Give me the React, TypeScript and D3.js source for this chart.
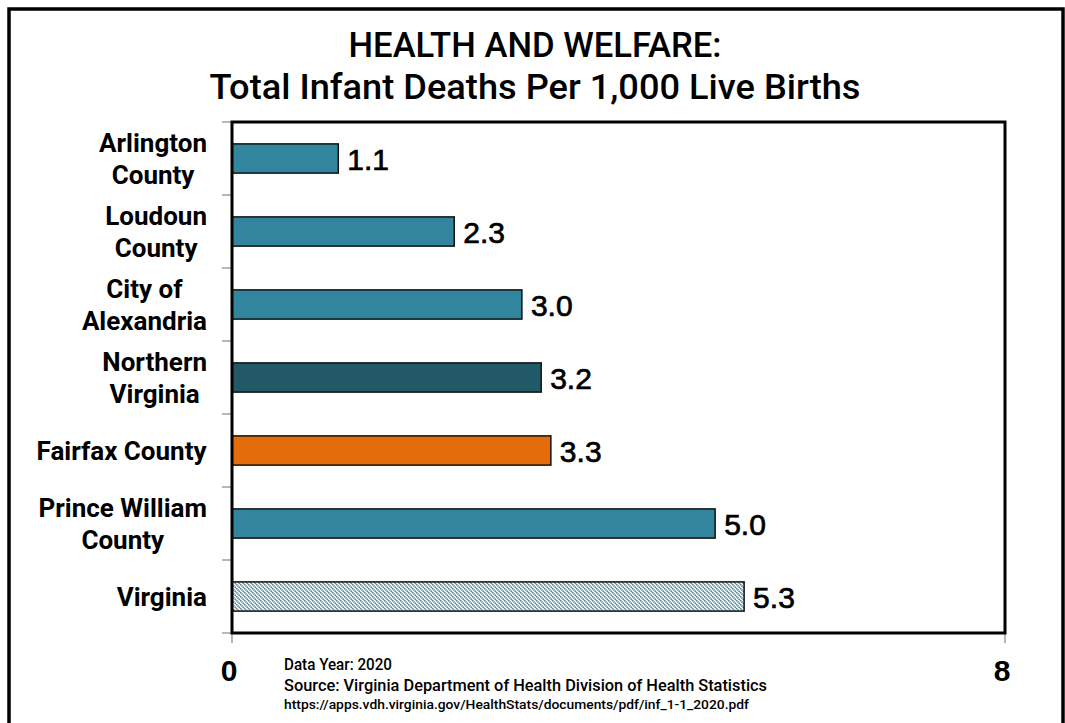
import React, { useEffect, useRef } from "react";
import * as d3 from "d3";

const categories = [
  "Arlington\nCounty",
  "Loudoun\nCounty",
  "City of\nAlexandria",
  "Northern\nVirginia",
  "Fairfax County",
  "Prince William\nCounty",
  "Virginia",
];
const values = [1.1, 2.3, 3.0, 3.2, 3.3, 5.0, 5.3];
const barKinds = ["teal", "teal", "teal", "dark", "orange", "teal", "hatch"];
const xTicks = [0, 8];
const titleLines = ["HEALTH AND WELFARE:", "Total Infant Deaths Per 1,000 Live Births"];
const footerLines = [
  "Data Year: 2020",
  "Source: Virginia Department of Health Division of Health Statistics",
  "https://apps.vdh.virginia.gov/HealthStats/documents/pdf/inf_1-1_2020.pdf",
];

const W = 1065;
const H = 723;
const plot = { left: 232, right: 1005, top: 122, bottom: 633 };
const colors: Record<string, string> = {
  teal: "#31859c",
  dark: "#215967",
  orange: "#e46c0a",
  hatch: "url(#hatch)",
};
const labelFont = "Roboto, 'Liberation Sans', sans-serif";

export default function App() {
  const ref = useRef<SVGSVGElement | null>(null);

  useEffect(() => {
    const svg = d3.select(ref.current);
    svg.selectAll("*").remove();

    const defs = svg.append("defs");
    const pat = defs
      .append("pattern")
      .attr("id", "hatch")
      .attr("patternUnits", "userSpaceOnUse")
      .attr("width", 4)
      .attr("height", 4);
    pat.append("rect").attr("width", 4).attr("height", 4).attr("fill", "#ffffff");
    pat
      .append("path")
      .attr("d", "M-1,-1L5,5M-1,3L1,5M3,-1L5,1")
      .attr("stroke", "#3d7888")
      .attr("stroke-width", 1.5)
      .attr("stroke-dasharray", "1.3,0.5");

    svg.append("rect").attr("width", W).attr("height", H).attr("fill", "#ffffff");

    // outer frame
    svg
      .append("rect")
      .attr("x", 9)
      .attr("y", 9)
      .attr("width", 1054)
      .attr("height", 740)
      .attr("fill", "none")
      .attr("stroke", "#000")
      .attr("stroke-width", 3.5);

    const x = d3.scaleLinear().domain([0, 8]).range([plot.left, plot.right]);
    const y = d3
      .scaleBand<string>()
      .domain(categories)
      .range([plot.top, plot.bottom])
      .paddingInner(0.6)
      .paddingOuter(0.3);

    // title
    const titleY = [57, 99];
    const titleW = [373, 651];
    svg
      .append("g")
      .selectAll("text")
      .data(titleLines)
      .join("text")
      .attr("x", 535)
      .attr("y", (_d, i) => titleY[i])
      .attr("text-anchor", "middle")
      .attr("font-family", labelFont)
      .attr("font-weight", 500)
      .attr("font-size", 35)
      .attr("textLength", (_d, i) => titleW[i])
      .attr("lengthAdjust", "spacingAndGlyphs")
      .attr("fill", "#000")
      .text((d) => d);

    // left ticks
    const step = y.step();
    const tickYs = d3.range(categories.length + 1).map((i) => plot.top + i * step);
    svg
      .append("g")
      .selectAll("line")
      .data(tickYs)
      .join("line")
      .attr("x1", plot.left - 10)
      .attr("x2", plot.left)
      .attr("y1", (d) => d)
      .attr("y2", (d) => d)
      .attr("stroke", "#888")
      .attr("stroke-width", 1.2);
    // bottom ticks
    svg
      .append("g")
      .selectAll("line")
      .data(xTicks)
      .join("line")
      .attr("x1", (d) => x(d))
      .attr("x2", (d) => x(d))
      .attr("y1", plot.bottom)
      .attr("y2", plot.bottom + 10)
      .attr("stroke", "#888")
      .attr("stroke-width", 1.2);

    // bars
    svg
      .append("g")
      .selectAll("rect")
      .data(categories)
      .join("rect")
      .attr("x", x(0))
      .attr("y", (d) => y(d)!)
      .attr("width", (_d, i) => x(values[i]) - x(0))
      .attr("height", y.bandwidth())
      .attr("fill", (_d, i) => colors[barKinds[i]])
      .attr("stroke", "#111")
      .attr("stroke-width", 1.5);

    // value labels
    svg
      .append("g")
      .selectAll("text")
      .data(categories)
      .join("text")
      .attr("x", (_d, i) => x(values[i]) + 9)
      .attr("y", (d) => y(d)! + y.bandwidth() / 2 + 11)
      .attr("font-family", "'Liberation Sans', Arial, sans-serif")
      .attr("font-size", 30)
      .attr("font-weight", 400)
      .attr("fill", "#000")
      .attr("stroke", "#000")
      .attr("stroke-width", 0.7)
      .text((_d, i) => d3.format(".1f")(values[i]));

    // category labels
    const catG = svg.append("g");
    categories.forEach((c) => {
      const lines = c.split("\n");
      const cy = y(c)! + y.bandwidth() / 2;
      const t = catG
        .append("text")
        .attr("font-family", labelFont)
        .attr("font-weight", 700)
        .attr("font-size", 26)
        .attr("fill", "#000")
        .attr("text-anchor", "middle");
      lines.forEach((ln, i) => {
        t.append("tspan")
          .attr("x", 0)
          .attr("y", lines.length === 1 ? cy + 9 : cy - 7 + i * 32)
          .text(ln);
      });
      const w = (t.node() as SVGTextElement).getBBox().width;
      t.attr("transform", `translate(${207 - w / 2},0)`);
    });

    // plot frame
    svg
      .append("rect")
      .attr("x", plot.left)
      .attr("y", plot.top)
      .attr("width", plot.right - plot.left)
      .attr("height", plot.bottom - plot.top)
      .attr("fill", "none")
      .attr("stroke", "#000")
      .attr("stroke-width", 3);

    // x tick labels
    svg
      .append("g")
      .selectAll("text")
      .data(xTicks)
      .join("text")
      .attr("x", (d) => x(d) - 3)
      .attr("y", 681)
      .attr("text-anchor", "middle")
      .attr("font-family", "'Liberation Sans', Arial, sans-serif")
      .attr("font-weight", 700)
      .attr("font-size", 30)
      .attr("fill", "#000")
      .text((d) => String(d));

    // footer
    const fy = [670, 691, 709];
    const fs = [16, 16, 13];
    const fw = [108, 483, 465];
    svg
      .append("g")
      .selectAll("text")
      .data(footerLines)
      .join("text")
      .attr("x", 284)
      .attr("y", (_d, i) => fy[i])
      .attr("font-family", labelFont)
      .attr("font-weight", 500)
      .attr("font-size", (_d, i) => fs[i])
      .attr("textLength", (_d, i) => fw[i])
      .attr("lengthAdjust", "spacingAndGlyphs")
      .attr("fill", "#000")
      .text((d) => d);
  }, []);

  return (
    <svg
      ref={ref}
      width={W}
      height={H}
      style={{ position: "absolute", left: 0, top: 0, display: "block" }}
    />
  );
}
